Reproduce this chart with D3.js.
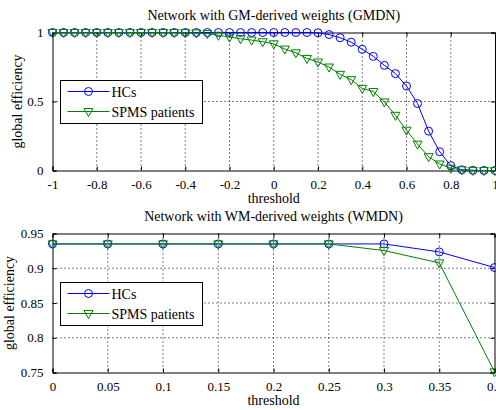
<!DOCTYPE html>
<html><head><meta charset="utf-8">
<script src="https://cdn.jsdelivr.net/npm/d3@7"></script>
<style>
html,body{margin:0;padding:0;background:#fff;}
svg{display:block;}
svg text{font-family:"Liberation Serif","Times New Roman",serif !important;}
</style></head>
<body>
<svg id="chart" width="496" height="410"></svg>
<script>
// ---- Data ----
const seriesNames = ["HCs", "SPMS patients"];
const gmThresholds = [-1,-0.95,-0.9,-0.85,-0.8,-0.75,-0.7,-0.65,-0.6,-0.55,-0.5,-0.45,-0.4,-0.35,-0.3,-0.25,-0.2,-0.15,-0.1,-0.05,0,0.05,0.1,0.15,0.2,0.25,0.3,0.35,0.4,0.45,0.5,0.55,0.6,0.65,0.7,0.75,0.8,0.85,0.9,0.95,1];
const gmHC = [1,1,1,1,1,1,1,1,1,1,1,1,1,1,1,1,1,1,1,1,1,1,1,1,0.998,0.985,0.962,0.93,0.878,0.827,0.762,0.702,0.612,0.485,0.285,0.136,0.035,0.005,0.001,0,0];
const gmSPMS = [1,1,1,1,1,1,1,1,1,1,1,1,0.999,0.997,0.992,0.98,0.967,0.955,0.945,0.933,0.918,0.88,0.853,0.812,0.786,0.75,0.697,0.658,0.595,0.572,0.497,0.40,0.292,0.191,0.10,0.047,0.016,0.005,0.001,0,0];
const wmThresholds = [0,0.05,0.1,0.15,0.2,0.25,0.3,0.35,0.4];
const wmHC = [0.935,0.935,0.935,0.935,0.935,0.935,0.935,0.9235,0.901];
const wmSPMS = [0.935,0.935,0.935,0.935,0.935,0.935,0.9255,0.9077,0.751];
const gmXTicks = [-1,-0.8,-0.6,-0.4,-0.2,0,0.2,0.4,0.6,0.8,1];
const gmYTicks = [0,0.5,1];
const wmXTicks = [0,0.05,0.1,0.15,0.2,0.25,0.3,0.35,0.4];
const wmYTicks = [0.75,0.8,0.85,0.9,0.95];
const titles = ["Network with GM-derived weights (GMDN)", "Network with WM-derived weights (WMDN)"];
const xLabel = "threshold";
const yLabel = "global efficiency";
const colors = ["#0000ff", "#008000"];

const svg = d3.select("#chart");

function fmt(v){ return (v<0?"-":"") + String(Math.abs(v)); }

function panel(cfg){
  const x = d3.scaleLinear().domain(cfg.xdom).range([cfg.left, cfg.right]);
  const y = d3.scaleLinear().domain(cfg.ydom).range([cfg.bottom, cfg.top]);
  const g = svg.append("g");
  // grid
  g.selectAll(".gx").data(cfg.xticks.slice(1,-1)).enter().append("line")
    .attr("x1", d=>x(d)).attr("x2", d=>x(d)).attr("y1", cfg.top).attr("y2", cfg.bottom)
    .attr("stroke","#000").attr("stroke-width",1).attr("stroke-dasharray","1,3");
  g.selectAll(".gy").data(cfg.yticks.slice(1,-1)).enter().append("line")
    .attr("y1", d=>y(d)).attr("y2", d=>y(d)).attr("x1", cfg.left).attr("x2", cfg.right)
    .attr("stroke","#000").attr("stroke-width",1).attr("stroke-dasharray","1,3");
  // axes
  const xb = d3.axisBottom(x).tickValues(cfg.xticks).tickSize(-4).tickPadding(9).tickFormat(fmt);
  const xt = d3.axisTop(x).tickValues(cfg.xticks).tickSize(-4).tickFormat("");
  const yl = d3.axisLeft(y).tickValues(cfg.yticks).tickSize(-4).tickPadding(9).tickFormat(fmt);
  const yr = d3.axisRight(y).tickValues(cfg.yticks).tickSize(-4).tickFormat("");
  [[xb,`translate(0,${cfg.bottom})`],[xt,`translate(0,${cfg.top})`],[yl,`translate(${cfg.left},0)`],[yr,`translate(${cfg.right},0)`]].forEach(([ax,tr])=>{
    const a = g.append("g").attr("transform",tr).call(ax).attr("font-family",null);
    a.select(".domain").attr("stroke","#000");
    a.selectAll(".tick line").attr("stroke","#000");
    a.selectAll("text").style("font-size","13px").attr("fill","#000");
  });
  // series
  cfg.series.forEach((vals,i)=>{
    const pts = cfg.xs.map((t,j)=>[t, vals[j]]);
    g.append("path").datum(pts)
      .attr("d", d3.line().x(d=>x(d[0])).y(d=>y(d[1])))
      .attr("fill","none").attr("stroke",colors[i]).attr("stroke-width",1);
    if(i===0){
      g.selectAll(null).data(pts).enter().append("circle")
        .attr("cx",d=>x(d[0])).attr("cy",d=>y(d[1])).attr("r",4)
        .attr("fill","none").attr("stroke",colors[i]).attr("stroke-width",1);
    } else {
      g.selectAll(null).data(pts).enter().append("path")
        .attr("transform",d=>`translate(${x(d[0])},${y(d[1])})`)
        .attr("d","M-4.5,-3L4.5,-3L0,5Z")
        .attr("fill","none").attr("stroke",colors[i]).attr("stroke-width",1);
    }
  });
  // title & labels
  const cx = (cfg.left+cfg.right)/2;
  g.append("text").attr("x",cx).attr("y",cfg.titleY).attr("text-anchor","middle")
    .style("font-size","14px").text(cfg.title);
  g.append("text").attr("x",cx).attr("y",cfg.xlabY).attr("text-anchor","middle")
    .style("font-size","14px").text(xLabel);
  g.append("text").attr("transform",`translate(${cfg.ylabX},${(cfg.top+cfg.bottom)/2}) rotate(-90)`)
    .attr("text-anchor","middle").style("font-size","14px").text(yLabel);
  // legend
  const L = cfg.legend;
  const lg = g.append("g");
  lg.append("rect").attr("x",L.x).attr("y",L.y).attr("width",L.w).attr("height",L.h)
    .attr("fill","#fff").attr("stroke","#000").attr("stroke-width",1);
  seriesNames.forEach((name,i)=>{
    const yy = L.y + 11 + i*20;
    lg.append("line").attr("x1",L.x+7).attr("x2",L.x+49).attr("y1",yy).attr("y2",yy)
      .attr("stroke",colors[i]).attr("stroke-width",1);
    if(i===0){
      lg.append("circle").attr("cx",L.x+28).attr("cy",yy).attr("r",4)
        .attr("fill","none").attr("stroke",colors[i]);
    } else {
      lg.append("path").attr("transform",`translate(${L.x+28},${yy})`)
        .attr("d","M-4.5,-3L4.5,-3L0,5Z").attr("fill","none").attr("stroke",colors[i]);
    }
    lg.append("text").attr("x",L.x+51).attr("y",yy+5).style("font-size","14px").text(name);
  });
}

panel({xdom:[-1,1], ydom:[0,1], left:52.5, right:495, top:32.5, bottom:170.5,
  xticks:gmXTicks, yticks:gmYTicks, xs:gmThresholds, series:[gmHC,gmSPMS],
  title:titles[0], titleY:20, xlabY:203, ylabX:22,
  legend:{x:60.5,y:80.5,w:142,h:43}});
panel({xdom:[0,0.4], ydom:[0.75,0.95], left:52.5, right:494.5, top:233.5, bottom:372.5,
  xticks:wmXTicks, yticks:wmYTicks, xs:wmThresholds, series:[wmHC,wmSPMS],
  title:titles[1], titleY:221, xlabY:405, ylabX:14,
  legend:{x:60.5,y:282.5,w:142,h:43}});
</script>
</body></html>
